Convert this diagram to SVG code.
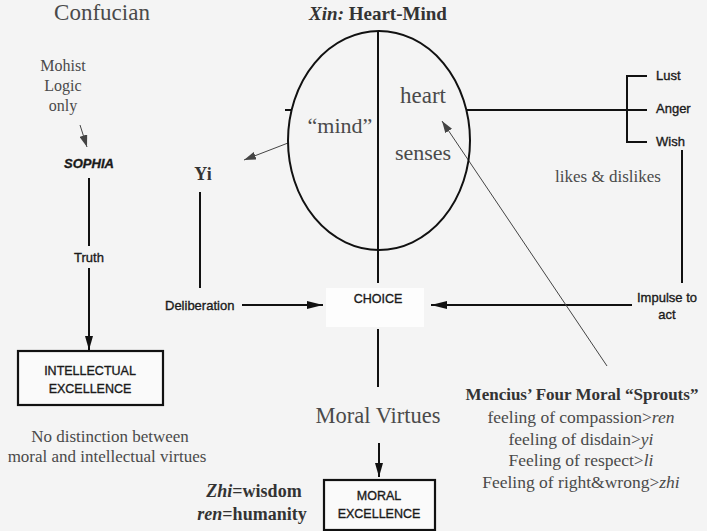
<svg xmlns="http://www.w3.org/2000/svg" width="707" height="531" viewBox="0 0 707 531">
<style>
.ser{font-family:"Liberation Serif","Times New Roman",serif;fill:#4a4a4a}
.serb{font-family:"Liberation Serif","Times New Roman",serif;font-weight:bold;fill:#333}
.san{font-family:"Liberation Sans",Arial,sans-serif;fill:#1a1a1a;stroke:#1a1a1a;stroke-width:0.35}
.ln{stroke:#111;stroke-width:2;fill:none}
.thin{stroke:#444;stroke-width:1;fill:none}
.box{stroke:#111;stroke-width:2.2;fill:#fafafa}
.it{font-style:italic;font-weight:normal}
</style>
<defs>
<marker id="ah" viewBox="0 0 16 8" refX="16" refY="4" markerWidth="16" markerHeight="8" orient="auto" markerUnits="userSpaceOnUse"><path d="M0,0 L16,4 L0,8 z" fill="#111"/></marker>
<marker id="ahv" viewBox="0 0 8 14" refX="4" refY="14" markerWidth="8" markerHeight="14" orient="0" markerUnits="userSpaceOnUse"><path d="M0,0 L4,14 L8,0 z" fill="#111"/></marker>
<marker id="sm" viewBox="0 0 12 8" refX="12" refY="4" markerWidth="12" markerHeight="8" orient="auto" markerUnits="userSpaceOnUse"><path d="M0,0 L12,4 L0,8 z" fill="#444"/></marker>
</defs>
<rect width="707" height="531" fill="#f4f4f4"/>
<rect x="326" y="288" width="98" height="39" fill="#fdfdfd"/>

<g id="connectors">
<path class="ln" d="M89,178 V246"/>
<path class="ln" d="M89,268 V350" marker-end="url(#ahv)"/>
<path class="ln" d="M200,192 V288"/>
<path class="ln" d="M242,305 H323" marker-end="url(#ah)"/>
<path class="ln" d="M632,305 H431" marker-end="url(#ah)"/>
<path class="ln" d="M378,31 V283"/>
<path class="ln" d="M378,329 V387"/>
<path class="ln" d="M379,443 V477" marker-end="url(#ahv)"/>
<path class="ln" d="M285,110 H292"/>
<path class="ln" d="M466,110 H647"/>
<path class="ln" d="M647,76 H627 V142 H647"/>
<path class="ln" d="M682,150 V283"/>
<path class="thin" d="M288,143 L244,160" marker-end="url(#sm)"/>
<path class="thin" d="M607,366 L442,121" marker-end="url(#sm)"/>
<path class="thin" d="M80,125 L87,147" marker-end="url(#sm)"/>
</g>

<g id="confucian"><text class="ser" x="102" y="20" font-size="23" text-anchor="middle">Confucian</text></g>
<g id="mohist">
<text class="ser" x="63" y="71" font-size="16" text-anchor="middle">Mohist</text>
<text class="ser" x="63" y="91" font-size="16" text-anchor="middle">Logic</text>
<text class="ser" x="63" y="111" font-size="16" text-anchor="middle">only</text>
</g>
<g id="sophia"><text class="san" x="89" y="168" font-size="13" font-weight="bold" font-style="italic" text-anchor="middle">SOPHIA</text></g>
<g id="truth"><text class="san" x="89" y="262" font-size="13" text-anchor="middle">Truth</text></g>
<g id="intellectual">
<rect class="box" x="18" y="351" width="145" height="54"/>
<text class="san" x="90" y="375" font-size="12.5" text-anchor="middle">INTELLECTUAL</text>
<text class="san" x="90" y="393" font-size="12.5" text-anchor="middle">EXCELLENCE</text>
</g>
<g id="no-distinction">
<text class="ser" x="110" y="442" font-size="17" text-anchor="middle">No distinction between</text>
<text class="ser" x="107" y="462" font-size="17" text-anchor="middle">moral and intellectual virtues</text>
</g>

<g id="xin">
<text class="serb" x="378" y="20" font-size="19" text-anchor="middle"><tspan font-style="italic">Xin:</tspan> Heart-Mind</text>
<ellipse class="ln" cx="379" cy="140.5" rx="91" ry="109.5"/>
<text class="ser" x="340" y="133" font-size="22" text-anchor="middle">“mind”</text>
<text class="ser" x="423" y="103" font-size="23" text-anchor="middle">heart</text>
<text class="ser" x="423" y="160" font-size="22" text-anchor="middle">senses</text>
</g>
<g id="yi"><text class="serb" x="203" y="180" font-size="18" text-anchor="middle" fill="#444">Yi</text></g>
<g id="deliberation"><text class="san" x="165" y="310" font-size="13">Deliberation</text></g>
<g id="choice"><text class="san" x="378" y="303" font-size="12.5" text-anchor="middle">CHOICE</text></g>

<g id="passions">
<text class="san" x="656" y="80" font-size="13">Lust</text>
<text class="san" x="656" y="113" font-size="13">Anger</text>
<text class="san" x="656" y="146" font-size="13">Wish</text>
</g>
<g id="likes"><text class="ser" x="608" y="182" font-size="17" text-anchor="middle">likes &amp; dislikes</text></g>
<g id="impulse">
<text class="san" x="667" y="302" font-size="13" text-anchor="middle">Impulse to</text>
<text class="san" x="667" y="319" font-size="13" text-anchor="middle">act</text>
</g>

<g id="moral-virtues"><text class="ser" x="378" y="423" font-size="22.5" text-anchor="middle">Moral Virtues</text></g>
<g id="moral-excellence">
<rect class="box" x="324" y="480" width="111" height="50"/>
<text class="san" x="379" y="500" font-size="12.5" text-anchor="middle">MORAL</text>
<text class="san" x="379" y="518" font-size="12.5" text-anchor="middle">EXCELLENCE</text>
</g>
<g id="zhi-ren">
<text class="serb" x="254" y="497" font-size="18" text-anchor="middle"><tspan font-style="italic">Zhi</tspan>=wisdom</text>
<text class="serb" x="252" y="520" font-size="18" text-anchor="middle"><tspan font-style="italic">ren</tspan>=humanity</text>
</g>

<g id="mencius">
<text class="serb" x="582" y="400" font-size="17" text-anchor="middle">Mencius’ Four Moral “Sprouts”</text>
<text class="ser" x="581" y="423" font-size="17.5" text-anchor="middle">feeling of compassion&gt;<tspan class="it">ren</tspan></text>
<text class="ser" x="581" y="445" font-size="17.5" text-anchor="middle">feeling of disdain&gt;<tspan class="it">yi</tspan></text>
<text class="ser" x="581" y="466" font-size="17.5" text-anchor="middle">Feeling of respect&gt;<tspan class="it">li</tspan></text>
<text class="ser" x="581" y="488" font-size="17.5" text-anchor="middle">Feeling of right&amp;wrong&gt;<tspan class="it">zhi</tspan></text>
</g>
</svg>
